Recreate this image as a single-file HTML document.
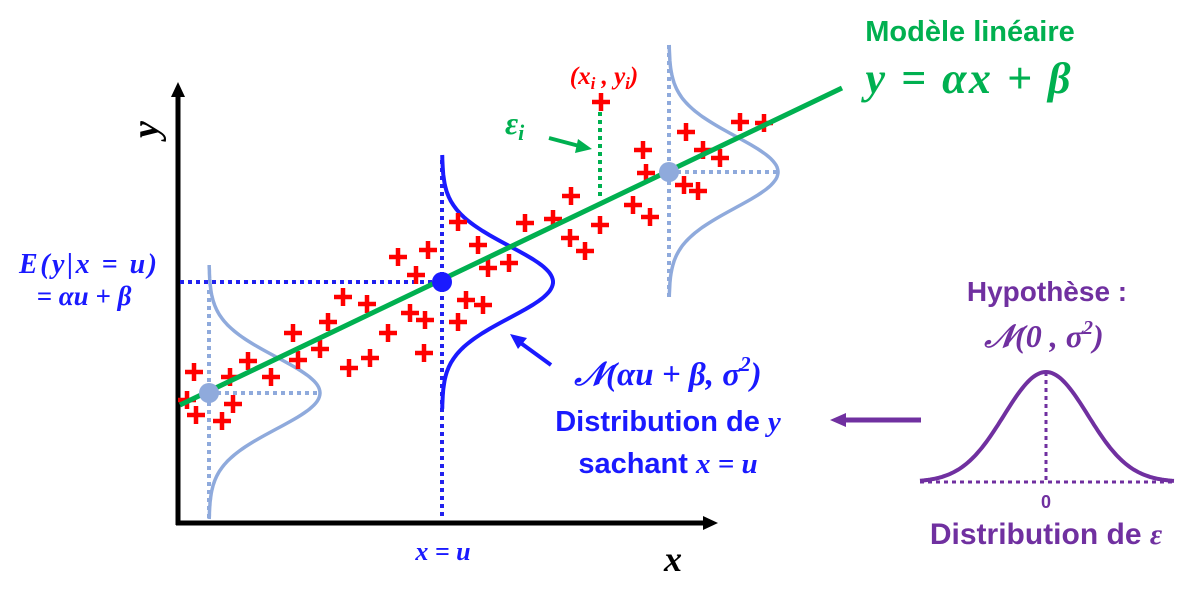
<!DOCTYPE html>
<html><head><meta charset="utf-8"><style>
html,body{margin:0;padding:0;background:#fff;}
svg{display:block;}
.m{font-family:"Liberation Serif",serif;font-style:italic;font-weight:bold;}
.s{font-family:"Liberation Sans",sans-serif;font-weight:bold;}
</style></head><body>
<svg id="g" width="1197" height="601" viewBox="0 0 1197 601" xmlns="http://www.w3.org/2000/svg">
<!-- axes -->
<line x1="178" y1="525" x2="178" y2="95" stroke="#000" stroke-width="5"/>
<path d="M171,97 L178,82 L185,97 z" fill="#000"/>
<line x1="176" y1="523" x2="705" y2="523" stroke="#000" stroke-width="5"/>
<path d="M703,516 L718,523 L703,530 z" fill="#000"/>
<!-- dotted guides -->
<line x1="180" y1="282" x2="442" y2="282" stroke="#2222ee" stroke-width="4" stroke-dasharray="4,4"/>
<line x1="442" y1="160" x2="442" y2="520" stroke="#2222ee" stroke-width="4" stroke-dasharray="4,4"/>
<line x1="209" y1="290" x2="209" y2="520" stroke="#8FAADC" stroke-width="4" stroke-dasharray="4,4"/>
<line x1="209" y1="393" x2="318" y2="393" stroke="#8FAADC" stroke-width="4" stroke-dasharray="4,4"/>
<line x1="669" y1="45" x2="669" y2="298" stroke="#8FAADC" stroke-width="4" stroke-dasharray="4,4"/>
<line x1="669" y1="172" x2="778" y2="172" stroke="#8FAADC" stroke-width="4" stroke-dasharray="4,4"/>
<line x1="600" y1="112" x2="600" y2="198" stroke="#00B050" stroke-width="4" stroke-dasharray="4,4"/>
<g id="curves"></g>
<g id="pl"></g>
<!-- line -->
<line x1="180" y1="405" x2="842" y2="88" stroke="#00B050" stroke-width="5"/>
<circle cx="209" cy="393" r="10" fill="#8FAADC"/>
<circle cx="669" cy="172" r="10" fill="#8FAADC"/>
<circle cx="442" cy="282" r="10" fill="#1a1aff"/>
<!-- arrows -->
<line x1="549" y1="138" x2="583" y2="147" stroke="#00B050" stroke-width="4"/>
<path d="M578,139 L592,149 L575,153 z" fill="#00B050"/>
<line x1="551" y1="365" x2="518" y2="341" stroke="#1a1aff" stroke-width="4"/>
<path d="M510,334 L527,338 L518,349 z" fill="#1a1aff"/>
<line x1="921" y1="420" x2="845" y2="420" stroke="#7030A0" stroke-width="5"/>
<path d="M830,420 L846,413 L846,427 z" fill="#7030A0"/>
<!-- purple gaussian -->
<line x1="920" y1="482" x2="1175" y2="482" stroke="#7030A0" stroke-width="3" stroke-dasharray="4,4"/>
<line x1="1046" y1="372" x2="1046" y2="482" stroke="#7030A0" stroke-width="3" stroke-dasharray="4,4"/>
<!-- text -->
<text class="m" x="128" y="132" font-size="38" transform="rotate(-90 146 120)">y</text>
<text class="m" x="664" y="571" font-size="36">x</text>
<text class="s" x="970" y="41" font-size="29" fill="#00B050" text-anchor="middle">Modèle linéaire</text>
<text class="m" x="968" y="93" font-size="44" fill="#00B050" text-anchor="middle" textLength="205">y =  αx +  β</text>
<text class="m" x="604" y="84" font-size="25" fill="#FF0000" text-anchor="middle">(x<tspan font-size="17" dy="5">i</tspan><tspan dy="-5"> , y</tspan><tspan font-size="17" dy="5">i</tspan><tspan dy="-5">)</tspan></text>
<text class="m" x="505" y="134" font-size="32" fill="#00B050">ε<tspan font-size="22" dy="6">i</tspan></text>
<text class="m" x="88" y="273" font-size="28" fill="#1a1aff" text-anchor="middle" textLength="138">E(y|x = u)</text>
<text class="m" x="84" y="305" font-size="27" fill="#1a1aff" text-anchor="middle">= αu + β</text>
<text class="m" x="443" y="560" font-size="26" fill="#1a1aff" text-anchor="middle">x = u</text>
<text class="m" x="668" y="385" font-size="33" fill="#1a1aff" text-anchor="middle">𝒩(αu + β, σ<tspan font-size="21" dy="-14">2</tspan><tspan dy="14">)</tspan></text>
<text class="s" x="668" y="431" font-size="29" fill="#1a1aff" text-anchor="middle">Distribution de <tspan class="m">y</tspan></text>
<text class="s" x="668" y="473" font-size="29" fill="#1a1aff" text-anchor="middle">sachant <tspan class="m">x = u</tspan></text>
<text class="s" x="1047" y="301" font-size="28" fill="#7030A0" text-anchor="middle">Hypothèse :</text>
<text class="m" x="1044" y="347" font-size="32" fill="#7030A0" text-anchor="middle">𝒩(0 , σ<tspan font-size="20" dy="-13">2</tspan><tspan dy="13">)</tspan></text>
<text class="s" x="1046" y="508" font-size="18" fill="#7030A0" text-anchor="middle">0</text>
<text class="s" x="1046" y="544" font-size="30" fill="#7030A0" text-anchor="middle">Distribution de <tspan class="m">ε</tspan></text>
</svg>
<script>
(function(){
var NS="http://www.w3.org/2000/svg";
function gauss(g,bx,c,y0,y1,A,s,col,w){var d="";for(var y=y0;y<=y1;y+=2){var x=bx+A*Math.exp(-(y-c)*(y-c)/(2*s*s));d+=(d?"L":"M")+x.toFixed(1)+","+y;}
var p=document.createElementNS(NS,"path");p.setAttribute("d",d);p.setAttribute("fill","none");p.setAttribute("stroke",col);p.setAttribute("stroke-width",w);g.appendChild(p);}
var g=document.getElementById("curves");
gauss(g,209,393,265,520,111,36,"#8FAADC",3.5);
gauss(g,669,172,45,298,109,36,"#8FAADC",3.5);
gauss(g,442,282,155,410,111,36,"#1a1aff",4);
var d="";for(var x=920;x<=1175;x+=2){var y=482-110*Math.exp(-(x-1046)*(x-1046)/(2*42*42));d+=(d?"L":"M")+x+","+y.toFixed(1);}
var p=document.createElementNS(NS,"path");p.setAttribute("d",d);p.setAttribute("fill","none");p.setAttribute("stroke","#7030A0");p.setAttribute("stroke-width",4);g.appendChild(p);
var pts=[[187,400],[196,415],[222,421],[233,404],[230,377],[248,361],[271,377],[293,333],[298,360],[320,349],[328,322],[343,297],[367,304],[349,368],[370,358],[388,333],[410,313],[425,320],[424,353],[458,322],[466,300],[483,305],[458,222],[478,245],[488,268],[509,263],[398,257],[428,250],[416,275],[525,223],[553,219],[571,196],[570,238],[585,251],[600,225],[601,102],[643,150],[646,173],[633,205],[650,217],[686,132],[703,150],[720,158],[684,185],[698,191],[740,122],[764,123],[194,372]];
var pl=document.getElementById("pl");var s="";
pts.forEach(function(q){s+="M"+(q[0]-9)+","+q[1]+"h18M"+q[0]+","+(q[1]-9)+"v18";});
var pp=document.createElementNS(NS,"path");pp.setAttribute("d",s);pp.setAttribute("stroke","#FF0000");pp.setAttribute("stroke-width",4.5);pl.appendChild(pp);
})();
</script>
</body></html>
